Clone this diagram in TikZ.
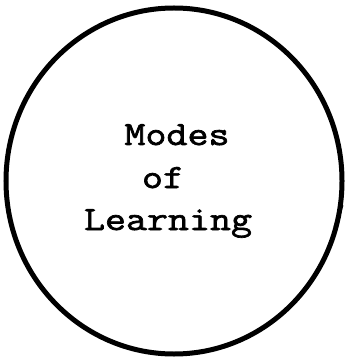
\documentclass[tikz,border=0pt]{standalone}
\usepackage{fontspec}
\newfontfamily\typewriter{Latin Modern Mono}[FakeStretch=1.2,FakeBold=2]
\begin{document}
\begin{tikzpicture}[x=1pt,y=-1pt,
  ring/.style={draw=black,line width=5pt},
  label/.style={font=\typewriter\fontsize{34}{42}\selectfont,anchor=base,inner sep=0pt}]
\useasboundingbox (0,0) rectangle (348,363);
\draw[ring] (174,181) ellipse [x radius=168, y radius=173];
\node[label] (modes) at (177,145) {Modes};
\node[label] (of) at (163,188) {of};
\node[label] (learning) at (168,230) {Learning};
\coordinate (m1) at (342,205);
\coordinate (m2) at (335,227);
\draw[line width=3pt] (m1) -- (m2);
\end{tikzpicture}
\end{document}
